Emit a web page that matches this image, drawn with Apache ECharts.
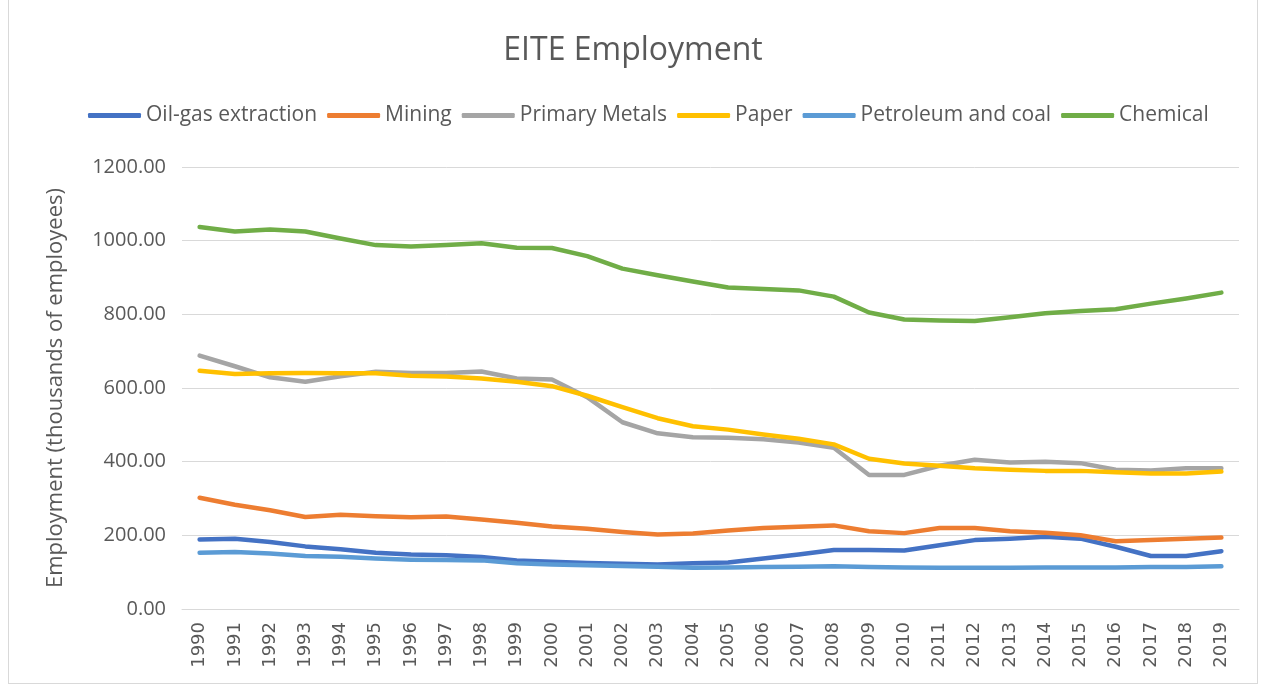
<!DOCTYPE html>
<html>
<head>
<meta charset="utf-8">
<script src="https://cdn.jsdelivr.net/npm/echarts@6/dist/echarts.min.js"></script>
<style>
  html, body { margin: 0; padding: 0; background: #fff; }
  #main { position: absolute; left: 8px; top: 0; width: 1250px; height: 684px; border: 1px solid #d9d9d9; border-top: none; box-sizing: border-box; }
</style>
</head>
<body>
<div id="main"></div>
<script>
var years = ['1990','1991','1992','1993','1994','1995','1996','1997','1998','1999',
             '2000','2001','2002','2003','2004','2005','2006','2007','2008','2009',
             '2010','2011','2012','2013','2014','2015','2016','2017','2018','2019'];

var oilGas = [189,191,182,170,162,153,148,146,141,132,128,125,123,121,124,126,137,148,160,160,159,173,187,191,196,191,169,144,144,157];
var mining = [302,283,268,250,256,252,249,251,243,234,224,218,209,202,205,213,220,223,227,211,206,220,220,211,207,200,184,187,191,194];
var primaryMetals = [688,659,629,617,632,644,641,641,645,626,623,575,507,477,466,465,461,452,438,364,364,389,405,398,400,396,378,376,382,382];
var paper = [647,638,640,641,640,640,633,631,626,617,605,579,548,518,496,487,474,462,447,408,395,389,382,378,375,375,371,368,368,373];
var petroCoal = [153,155,151,144,142,137,134,133,132,124,121,119,117,115,112,113,114,115,116,114,113,112,112,112,113,113,113,114,114,116];
var chemical = [1037,1025,1030,1025,1006,988,984,988,993,981,980,958,924,906,889,873,869,865,848,805,786,783,782,792,803,809,814,829,843,859];

var font = '"Open Sans", "Noto Sans", sans-serif';
var grey = '#595959';

function line(name, data, color) {
    return {
        name: name,
        type: 'line',
        data: data,
        symbol: 'none',
        lineStyle: { width: 4.5, color: color, cap: 'round', join: 'round' },
        itemStyle: { color: color }
    };
}

var chart = echarts.init(document.getElementById('main'));
var option = {
    animation: false,
    title: {
        text: 'EITE Employment',
        left: 'center',
        top: 30,
        textStyle: { fontFamily: font, fontSize: 32, fontWeight: 'normal', color: grey }
    },
    legend: {
        top: 100,
        left: 74,
        itemWidth: 53,
        itemHeight: 5,
        itemGap: 10,
        icon: 'roundRect',
        textStyle: { fontFamily: font, fontSize: 21, color: grey },
        data: ['Oil-gas extraction', 'Mining', 'Primary Metals', 'Paper', 'Petroleum and coal', 'Chemical']
    },
    grid: { left: 173, right: 18, top: 167, bottom: 74 },
    xAxis: {
        type: 'category',
        data: years,
        boundaryGap: true,
        axisLine: { lineStyle: { color: '#d9d9d9', width: 1 } },
        axisTick: { show: false },
        axisLabel: { rotate: 90, fontFamily: '"DejaVu Sans", sans-serif', fontSize: 18, color: grey, margin: 13, interval: 0 }
    },
    yAxis: {
        type: 'value',
        min: 0,
        max: 1200,
        interval: 200,
        name: 'Employment (thousands of employees)',
        nameLocation: 'middle',
        nameGap: 115,
        nameTextStyle: { fontFamily: font, fontSize: 22, color: grey },
        axisLine: { show: false },
        axisTick: { show: false },
        splitLine: { lineStyle: { color: '#d9d9d9', width: 1 } },
        axisLabel: {
            fontFamily: font, fontSize: 20, color: grey, margin: 16,
            formatter: function (v) { return v.toFixed(2); }
        }
    },
    series: [
        line('Oil-gas extraction', oilGas, '#4472C4'),
        line('Mining', mining, '#ED7D31'),
        line('Primary Metals', primaryMetals, '#A5A5A5'),
        line('Paper', paper, '#FFC000'),
        line('Petroleum and coal', petroCoal, '#5B9BD5'),
        line('Chemical', chemical, '#70AD47')
    ]
};
chart.setOption(option);
</script>
</body>
</html>
